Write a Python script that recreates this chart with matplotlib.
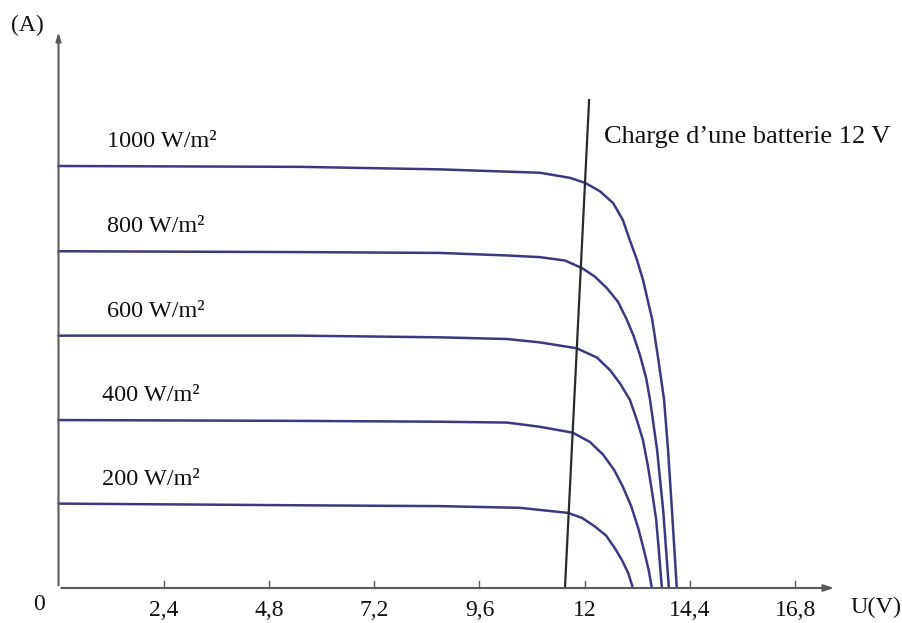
import matplotlib
matplotlib.use("Agg")
import matplotlib.pyplot as plt

# I-U curves of a PV panel for several irradiances (I in arbitrary units, U in V)
IRRADIANCE = ["1000 W/m²", "800 W/m²", "600 W/m²", "400 W/m²", "200 W/m²"]

U_1000 = [0, 5.51, 8.70, 10.98, 11.66, 12.01, 12.35, 12.65, 12.87, 13.03, 13.19, 13.33,
          13.54, 13.67, 13.81, 13.90, 13.99, 14.10]
I_1000 = [5.00, 4.99, 4.96, 4.92, 4.86, 4.80, 4.70, 4.56, 4.36, 4.12, 3.89, 3.65,
          3.18, 2.74, 2.23, 1.64, 0.92, 0.0]

U_800 = [0, 5.51, 8.70, 10.23, 10.98, 11.55, 11.94, 12.23, 12.51, 12.76, 12.96, 13.12,
         13.26, 13.40, 13.49, 13.65, 13.79, 13.92]
I_800 = [3.99, 3.98, 3.97, 3.94, 3.92, 3.88, 3.79, 3.69, 3.55, 3.39, 3.18, 2.98,
         2.76, 2.49, 2.23, 1.64, 0.92, 0.0]

U_600 = [0, 5.51, 8.70, 10.23, 10.98, 11.82, 12.28, 12.58, 12.81, 13.03, 13.19, 13.33,
         13.44, 13.53, 13.63, 13.69, 13.76]
I_600 = [2.99, 2.99, 2.97, 2.95, 2.91, 2.84, 2.73, 2.58, 2.42, 2.23, 1.99, 1.75,
         1.45, 1.16, 0.81, 0.45, 0.0]

U_400 = [0, 5.51, 8.70, 10.23, 10.98, 11.73, 12.12, 12.42, 12.67, 12.87, 13.06, 13.22,
         13.35, 13.46, 13.53]
I_400 = [1.99, 1.98, 1.97, 1.96, 1.91, 1.84, 1.73, 1.58, 1.40, 1.20, 0.97, 0.71,
         0.45, 0.21, 0.0]

U_200 = [0, 5.51, 8.70, 10.52, 11.62, 11.94, 12.23, 12.49, 12.69, 12.85, 12.99, 13.10]
I_200 = [1.00, 0.98, 0.97, 0.95, 0.89, 0.83, 0.73, 0.62, 0.47, 0.33, 0.18, 0.0]

CURVES = [(U_1000, I_1000), (U_800, I_800), (U_600, I_600), (U_400, I_400), (U_200, I_200)]
LABEL_U = [1.1, 1.1, 1.1, 1.0, 1.0]

# battery load line
U_BAT = [11.55, 12.10]
I_BAT = [0.0, 5.78]

XTICKS = [2.4, 4.8, 7.2, 9.6, 12, 14.4, 16.8]
XTICKLABELS = ["2,4", "4,8", "7,2", "9,6", "12", "14,4", "16,8"]

CURVE_C = "#3a3a82"
AXIS_C = "#5a5a5a"
INK = "#111111"
SERIF = ["Liberation Serif", "DejaVu Serif"]

W, H = 902, 623
X0, PX_PER_V = 58.5, 43.85
Y0, PX_PER_A = 588, 84.4

fig = plt.figure(figsize=(W / 100, H / 100), dpi=100)
ax = fig.add_axes([0, 0, 1, 1])
ax.set_xlim(-X0 / PX_PER_V, (W - X0) / PX_PER_V)
ax.set_ylim(-(H - Y0) / PX_PER_A, Y0 / PX_PER_A)
ax.axis("off")

# axes with arrows
ax.annotate("", xy=(17.75, 0), xytext=(0, 0),
            arrowprops=dict(arrowstyle="-|>,head_length=0.6,head_width=0.2", color=AXIS_C, lw=1.5))
ax.annotate("", xy=(0, 6.62), xytext=(0, 0),
            arrowprops=dict(arrowstyle="-|>,head_length=0.5,head_width=0.15", color=AXIS_C, lw=1.5))

for t, lab in zip(XTICKS, XTICKLABELS):
    ax.plot([t, t], [0, 0.08], color=AXIS_C, lw=1)
    ax.text(t, -0.27, lab, ha="center", va="center", fontsize=17, family=SERIF, color=INK)

ax.text(-0.44, -0.19, "0", ha="center", va="center", fontsize=17, family=SERIF, color=INK)
ax.text(18.65, -0.23, "U(V)", ha="center", va="center", fontsize=17.5, family=SERIF, color=INK)
ax.text(-0.7, 6.67, "(A)", ha="center", va="center", fontsize=17, family=SERIF, color=INK)

for (u, i), lab, lu in zip(CURVES, IRRADIANCE, LABEL_U):
    ax.plot(u, i, color=CURVE_C, lw=1.8, solid_capstyle="round", solid_joinstyle="round")
    ax.text(lu, i[0] + 0.29, lab, ha="left", va="center",
            fontsize=17.5, family=SERIF, color=INK)

ax.plot(U_BAT, I_BAT, color="#2a2a2a", lw=1.6)
ax.text(12.45, 5.34, "Charge d\u2019une batterie 12 V", ha="left", va="center",
        fontsize=19, family=SERIF, color=INK)

fig.savefig("out.png", dpi=100, facecolor="white")
